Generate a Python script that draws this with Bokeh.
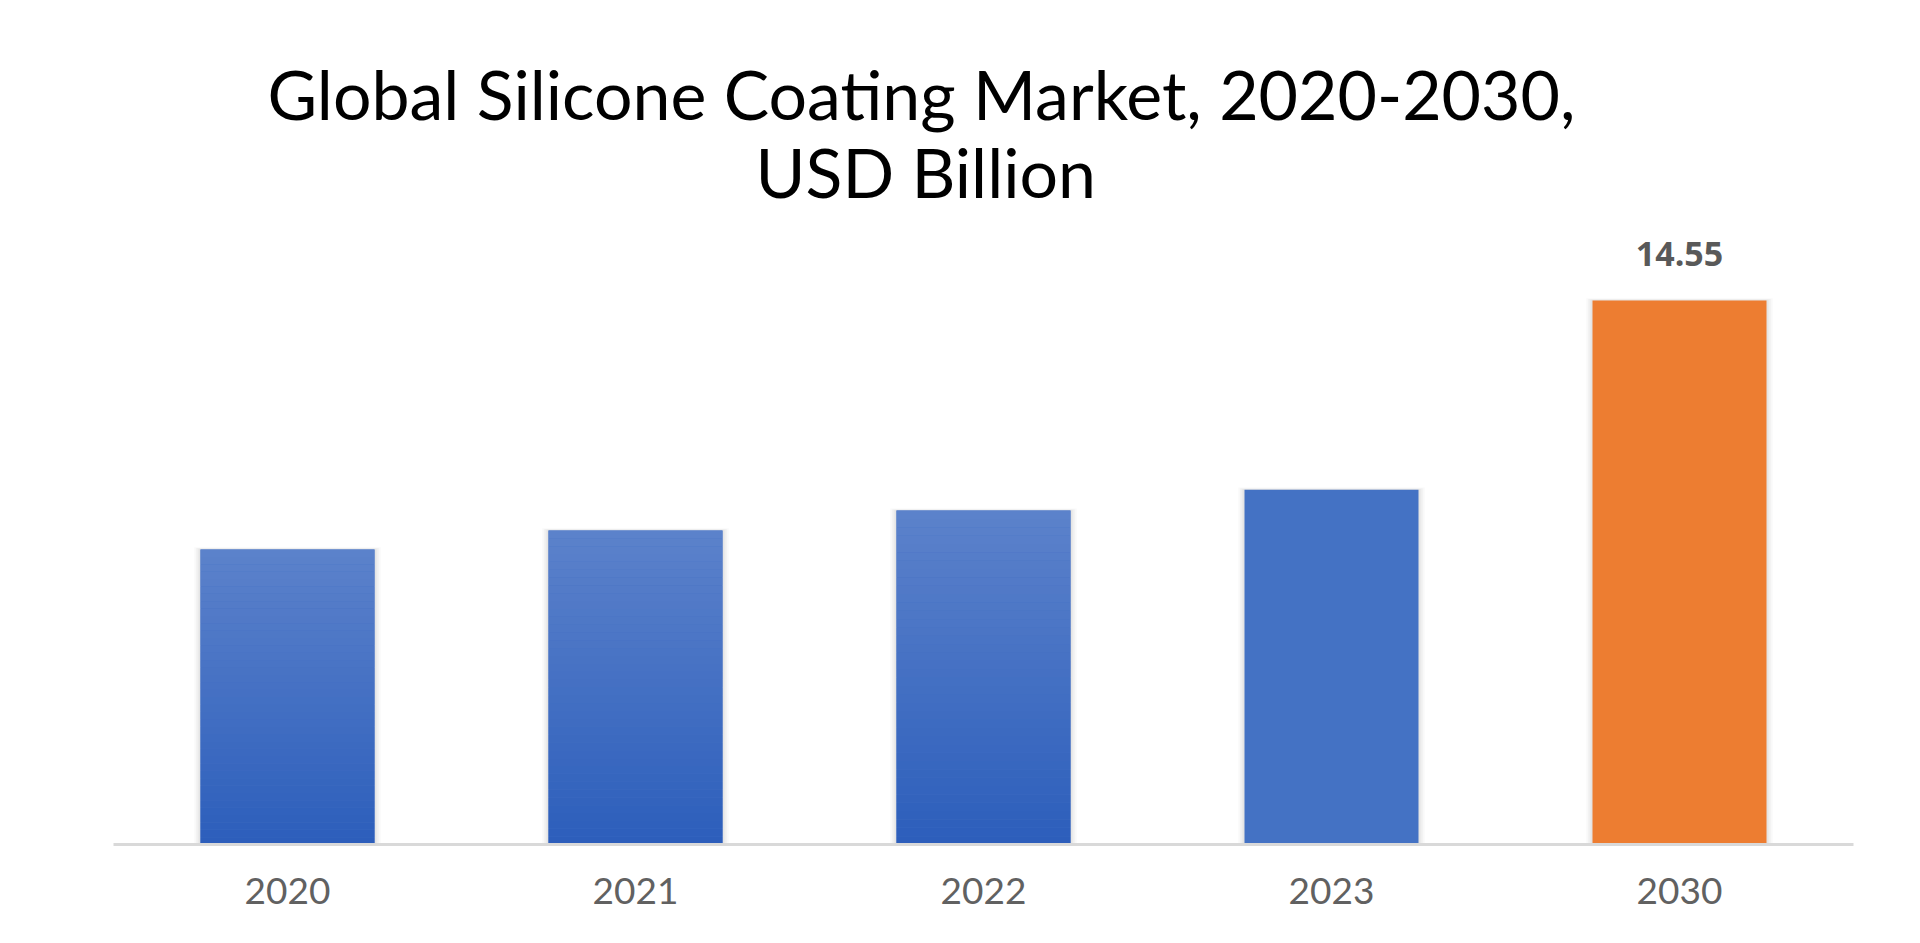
from bokeh.plotting import figure
from bokeh.models import Title, ColumnDataSource, FactorRange
from bokeh.core.properties import value
from bokeh.embed import file_html
from bokeh.resources import INLINE

# ---- data ----
years = ["2020", "2021", "2022", "2023", "2030"]
values = [7.89, 8.40, 8.93, 9.49, 14.55]
fill_styles = ["gradient", "gradient", "gradient", "blue", "orange"]
label_years = ["2030"]
label_values = [14.55]
title_line1 = "Global Silicone Coating Market, 2020-2030,"
title_line2 = "USD Billion"

# ---- style ----
W, H = 1920, 943
LEFT, RIGHT, BOTTOM, TOP = 113, 67, 99, 215
PX_PER_UNIT = 544 / 14.55
frame_h = H - BOTTOM - TOP
y_end = frame_h / PX_PER_UNIT

GRAD_TOP = (0x5C, 0x82, 0xCB)
GRAD_BOT = (0x2C, 0x5E, 0xBB)
SOLID = {"blue": "#4472C4", "orange": "#ED7D31"}
BAR_W = 0.5

p = figure(
    x_range=FactorRange(factors=years, range_padding=0),
    y_range=(0, y_end),
    width=W, height=H,
    output_backend="svg", toolbar_location=None,
    min_border_left=LEFT, min_border_right=RIGHT,
    min_border_bottom=BOTTOM, min_border_top=TOP,
    background_fill_color="white", border_fill_color="white",
)
p.outline_line_color = None
p.xgrid.visible = False
p.ygrid.visible = False
p.yaxis.visible = False

# soft shadow behind bars
for k, a in enumerate([0.045, 0.035, 0.025]):
    p.vbar(x=years, top=[v + 0.02 * (k + 1) for v in values], bottom=0,
           width=BAR_W + 0.012 * (k + 1), fill_color="#000000",
           fill_alpha=a, line_color=None)

# base bars
base_colors = []
for s in fill_styles:
    if s == "gradient":
        mid = tuple((a + b) // 2 for a, b in zip(GRAD_TOP, GRAD_BOT))
        base_colors.append("#%02x%02x%02x" % mid)
    else:
        base_colors.append(SOLID[s])
p.vbar(x=years, top=values, bottom=0, width=BAR_W,
       fill_color=base_colors, line_color=None)

# gradient slices
N = 40
gx, gb, gt, gc = [], [], [], []
for yr, v, s in zip(years, values, fill_styles):
    if s != "gradient":
        continue
    for k in range(N):
        f = (k + 0.5) / N
        col = tuple(int(round(b + (t - b) * f)) for t, b in zip(GRAD_TOP, GRAD_BOT))
        gx.append(yr)
        gb.append(v * k / N)
        gt.append(v * (k + 1) / N)
        gc.append("#%02x%02x%02x" % col)
p.vbar(x="x", bottom="b", top="t", width=BAR_W, fill_color="c", line_color=None,
       source=ColumnDataSource(dict(x=gx, b=gb, t=gt, c=gc)))

# value label
p.text(x=label_years, y=label_values, text=[f"{v:.2f}" for v in label_values],
       text_align="center", text_baseline="bottom", y_offset=-35,
       text_font=value("Open Sans"), text_font_style="bold",
       text_font_size="34px", text_color="#595959")

# axis
ax = p.xaxis[0]
ax.axis_line_color = "#D9D9D9"
ax.axis_line_width = 3
ax.major_tick_line_color = None
ax.minor_tick_line_color = None
ax.major_tick_out = 0
ax.major_tick_in = 0
ax.major_label_standoff = 33
ax.major_label_text_font = "Lato"
ax.major_label_text_font_size = "37px"
ax.major_label_text_color = "#616161"

# titles (line 2 first: closest to the plot)
p.add_layout(Title(text=title_line2, align="left", offset=642,
                   text_font="Lato", text_font_size="68px",
                   text_font_style="normal", text_color="#000000",
                   standoff=8), "above")
p.add_layout(Title(text=title_line1, align="left", offset=154,
                   text_font="Lato", text_font_size="68px",
                   text_font_style="normal", text_color="#000000",
                   standoff=-18), "above")

open("out.html", "w").write(file_html(p, INLINE))
